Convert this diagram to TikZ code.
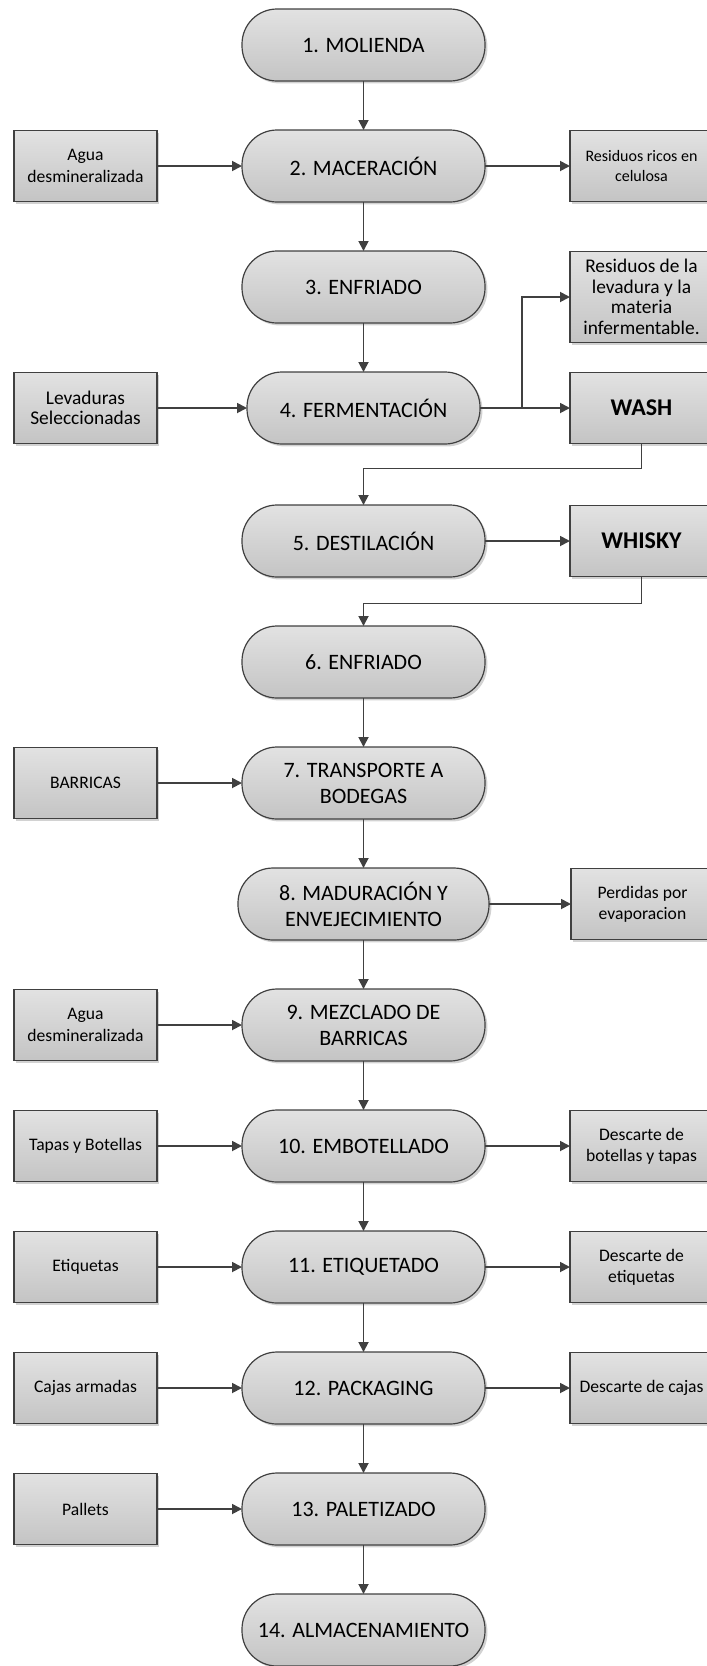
\documentclass[tikz,border=0pt]{standalone}
\usepackage{fontspec}
\setmainfont{Carlito}
\usetikzlibrary{arrows.meta, positioning, shadows}
\definecolor{linegray}{HTML}{404040}
\definecolor{filltop}{HTML}{E2E2E2}
\definecolor{fillbot}{HTML}{C4C4C4}

\begin{document}
\begin{tikzpicture}[
    stage/.style={rectangle, draw=linegray, line width=0.6pt, rounded corners=17.5pt,
        top color=filltop, bottom color=fillbot, minimum width=121.5pt, minimum height=36pt,
        align=center, inner sep=1pt, outer sep=0pt, font=\fontsize{11}{13}\selectfont,
        drop shadow={shadow xshift=1.2pt, shadow yshift=-1.2pt, fill=black!25, opacity=0.7}},
    io/.style={rectangle, draw=linegray, line width=0.6pt,
        top color=filltop, bottom color=fillbot, minimum width=71.5pt, minimum height=35.5pt,
        align=center, inner sep=1pt, outer sep=0pt, font=\fontsize{8.8}{10.6}\selectfont,
        drop shadow={shadow xshift=1.2pt, shadow yshift=-1.2pt, fill=black!25, opacity=0.7}},
    big/.style={font=\fontsize{9.7}{10.3}\selectfont},
    tiny/.style={font=\fontsize{8}{10}\selectfont},
    product/.style={font=\fontsize{12}{14}\selectfont\bfseries},
    arrow/.style={-{Triangle[length=5pt, width=5pt]}, line width=0.9pt, draw=linegray},
    node distance=24.5pt
]
    \useasboundingbox (0,0) rectangle (353.5pt,-833pt);

    % Stages
    \node[stage] (t1) at (181.75pt,-22.5pt) {1. MOLIENDA};
    \node[stage, below=of t1] (t2) {2. MACERACIÓN};
    \node[stage, below=of t2] (t3) {3. ENFRIADO};
    \node[stage, below=of t3, minimum width=116.5pt] (t4) {4. FERMENTACIÓN};
    \node[stage, below=30.5pt of t4] (t5) {5. DESTILACIÓN};
    \node[stage, below=of t5] (t6) {6. ENFRIADO};
    \node[stage, below=of t6] (t7) {7. TRANSPORTE A\\BODEGAS};
    \node[stage, below=of t7, minimum width=125.5pt] (t8) {8. MADURACIÓN Y\\ENVEJECIMIENTO};
    \node[stage, below=of t8] (t9) {9. MEZCLADO DE\\BARRICAS};
    \node[stage, below=of t9] (t10) {10. EMBOTELLADO};
    \node[stage, below=of t10] (t11) {11. ETIQUETADO};
    \node[stage, below=of t11] (t12) {12. PACKAGING};
    \node[stage, below=of t12] (t13) {13. PALETIZADO};
    \node[stage, below=of t13] (t14) {14. ALMACENAMIENTO};

    % Inputs
    \node[io, left=42.5pt of t2] (agua1) {Agua\\desmineralizada};
    \node[io, big, left=45pt of t4] (lev) {Levaduras\\Seleccionadas};
    \node[io, left=42.5pt of t7] (barr) {BARRICAS};
    \node[io, left=42.5pt of t9] (agua2) {Agua\\desmineralizada};
    \node[io, left=42.5pt of t10] (tapas) {Tapas y Botellas};
    \node[io, left=42.5pt of t11] (etiq) {Etiquetas};
    \node[io, left=42.5pt of t12] (cajas) {Cajas armadas};
    \node[io, left=42.5pt of t13] (pall) {Pallets};

    % Outputs
    \node[io, tiny, right=42.5pt of t2] (res1) {Residuos ricos en\\celulosa};
    \node[io, product, right=45pt of t4] (wash) {WASH};
    \node[io, big, above=15pt of wash, minimum height=45.5pt] (res2) {Residuos de la\\levadura y la\\materia\\infermentable.};
    \node[io, product, right=42.5pt of t5] (whisky) {WHISKY};
    \node[io, right=41pt of t8] (perd) {Perdidas por\\evaporacion};
    \node[io, right=42.5pt of t10] (desc1) {Descarte de\\botellas y tapas};
    \node[io, right=42.5pt of t11] (desc2) {Descarte de\\etiquetas};
    \node[io, right=42.5pt of t12] (desc3) {Descarte de cajas};

    % Main flow
    \draw[arrow] (t1) -- (t2);
    \draw[arrow] (t2) -- (t3);
    \draw[arrow] (t3) -- (t4);
    \draw[arrow] (wash.south) -- ++(0,-12.5pt) -| (t5.north);
    \draw[arrow] (whisky.south) -- ++(0,-13.5pt) -| (t6.north);
    \draw[arrow] (t6) -- (t7);
    \draw[arrow] (t7) -- (t8);
    \draw[arrow] (t8) -- (t9);
    \draw[arrow] (t9) -- (t10);
    \draw[arrow] (t10) -- (t11);
    \draw[arrow] (t11) -- (t12);
    \draw[arrow] (t12) -- (t13);
    \draw[arrow] (t13) -- (t14);

    % Inputs and outputs
    \draw[arrow] (agua1) -- (t2);
    \draw[arrow] (t2) -- (res1);
    \draw[arrow] (lev) -- (t4);
    \draw[arrow] (t4) -- (wash);
    \draw[arrow] (t4.east) -- ++(21pt,0) |- (res2);
    \draw[arrow] (t5) -- (whisky);
    \draw[arrow] (barr) -- (t7);
    \draw[arrow] (t8) -- (perd);
    \draw[arrow] (agua2) -- (t9);
    \draw[arrow] (tapas) -- (t10);
    \draw[arrow] (t10) -- (desc1);
    \draw[arrow] (etiq) -- (t11);
    \draw[arrow] (t11) -- (desc2);
    \draw[arrow] (cajas) -- (t12);
    \draw[arrow] (t12) -- (desc3);
    \draw[arrow] (pall) -- (t13);
\end{tikzpicture}
\end{document}
